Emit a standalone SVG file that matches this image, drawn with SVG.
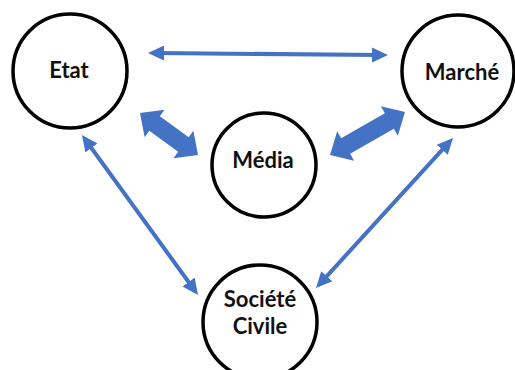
<svg xmlns="http://www.w3.org/2000/svg" width="515" height="370" viewBox="0 0 515 370">
<defs>
<style>
.node circle{fill:#fff;stroke:#000;stroke-width:3.5}
.node text{font-family:Lato,"Open Sans","Liberation Sans",sans-serif;font-weight:700;font-size:22px;fill:#111;text-anchor:middle}
.thin{stroke:#4472C4;stroke-width:4;fill:none;marker-start:url(#ah);marker-end:url(#ah)}
.thick{fill:#4472C4}
</style>
<marker id="ah" markerUnits="userSpaceOnUse" viewBox="0 0 16 16" markerWidth="16" markerHeight="16" refX="8" refY="8" orient="auto-start-reverse">
<path d="M0,0.5 L16,8 L0,15.5 z" fill="#4472C4"/>
</marker>
</defs>
<rect width="515" height="370" fill="#fff"/>
<g id="connectors">
<line class="thin" x1="156" y1="53" x2="380" y2="55"/>
<line class="thin" x1="86.7" y1="141.5" x2="193.3" y2="288.5"/>
<line class="thin" x1="447.6" y1="143.9" x2="321.4" y2="282.1"/>
<polygon class="thick" transform="translate(169 134) rotate(35.9)" points="-35.8,0 -17.8,-17 -17.8,-9 17.8,-9 17.8,-17 35.8,0 17.8,17 17.8,9 -17.8,9 -17.8,17"/>
<polygon class="thick" transform="translate(367.5 133.5) rotate(-29.8)" points="-43.2,0 -25.2,-17 -25.2,-9 25.2,-9 25.2,-17 43.2,0 25.2,17 25.2,9 -25.2,9 -25.2,17"/>
</g>
<g id="etat" class="node"><circle cx="70" cy="71" r="57"/><text x="69" y="78">Etat</text></g>
<g id="marche" class="node"><circle cx="458" cy="71" r="56"/><text x="462" y="80">Marché</text></g>
<g id="media" class="node"><circle cx="264" cy="165" r="52"/><text x="263" y="168">Média</text></g>
<g id="societe" class="node"><circle cx="260" cy="322" r="57"/><text x="260" y="307">Société</text><text x="260" y="334">Civile</text></g>
</svg>
